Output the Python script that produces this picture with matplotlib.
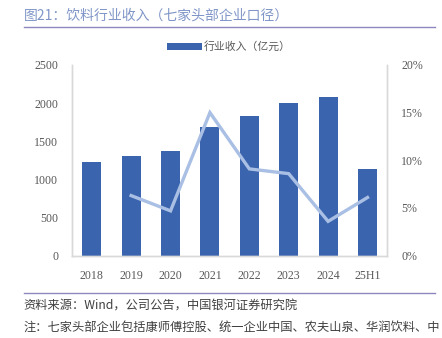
import matplotlib
matplotlib.use("Agg")
import matplotlib.pyplot as plt
from matplotlib.lines import Line2D

plt.rcParams['font.family'] = ['Noto Sans CJK SC', 'DejaVu Sans']

# data
years = ['2018', '2019', '2020', '2021', '2022', '2023', '2024', '25H1']
revenue = [1228, 1307, 1369, 1683, 1835, 1998, 2077, 1141]   # 亿元
growth = [None, 6.3, 4.7, 15.0, 9.1, 8.6, 3.6, 6.1]          # %

bar_color = '#3a64ad'
line_color = '#a9bfe4'
axis_color = '#d9d9d9'
tick_font = 'Liberation Serif'

fig = plt.figure(figsize=(4.42, 3.38), dpi=100)
ax = fig.add_axes([0.163, 0.2435, 0.713, 0.5645])

x = list(range(len(years)))
bars = ax.bar(x, revenue, width=0.48, color=bar_color, label='行业收入（亿元）', zorder=2)
ax.set_ylim(0, 2500)
ax.set_yticks([0, 500, 1000, 1500, 2000, 2500])
ax.set_xlim(-0.5, len(years) - 0.5)
ax.set_xticks(x)
ax.set_xticklabels(years)

ax2 = ax.twinx()
gx = [i for i, g in zip(x, growth) if g is not None]
gy = [g for g in growth if g is not None]
ax2.plot(gx, gy, color=line_color, linewidth=2.4, solid_joinstyle='miter', zorder=3)
ax2.set_ylim(0, 20)
ax2.set_yticks([0, 5, 10, 15, 20])
ax2.set_yticklabels([f'{v}%' for v in [0, 5, 10, 15, 20]])

for a in (ax, ax2):
    a.spines['top'].set_visible(False)
    for s in ('left', 'right', 'bottom'):
        a.spines[s].set_color(axis_color)
        a.spines[s].set_linewidth(1.0)
    a.tick_params(length=0, labelsize=8.6, colors='#595959')
    for lab in a.get_xticklabels() + a.get_yticklabels():
        lab.set_fontfamily(tick_font)
ax.tick_params(axis='y', pad=10)
ax2.tick_params(axis='y', pad=10)
ax.tick_params(axis='x', pad=10)

leg = ax.legend(loc='center', bbox_to_anchor=(0.497, 1.095), frameon=False,
                fontsize=7.8, handlelength=3.2, handleheight=0.7, handletextpad=0.15,
                labelcolor='#595959')

# title and rules
fig.text(0.054, 0.955, '图21：饮料行业收入（七家头部企业口径）', fontsize=10,
         color='#8096c8', va='center', ha='left')
fig.add_artist(Line2D([0.054, 0.984], [0.92, 0.92], color='#8c88bd', linewidth=1.0))
fig.add_artist(Line2D([0.054, 0.984], [0.133, 0.133], color='#8c88bd', linewidth=1.0))

fig.text(0.054, 0.095, '资料来源：Wind，公司公告，中国银河证券研究院', fontsize=8.8,
         color='#404040', va='center', ha='left', style='italic')
fig.text(0.054, 0.031, '注：七家头部企业包括康师傅控股、统一企业中国、农夫山泉、华润饮料、中',
         fontsize=8.8, color='#404040', va='center', ha='left', style='italic')

fig.savefig('out.png', dpi=100)
